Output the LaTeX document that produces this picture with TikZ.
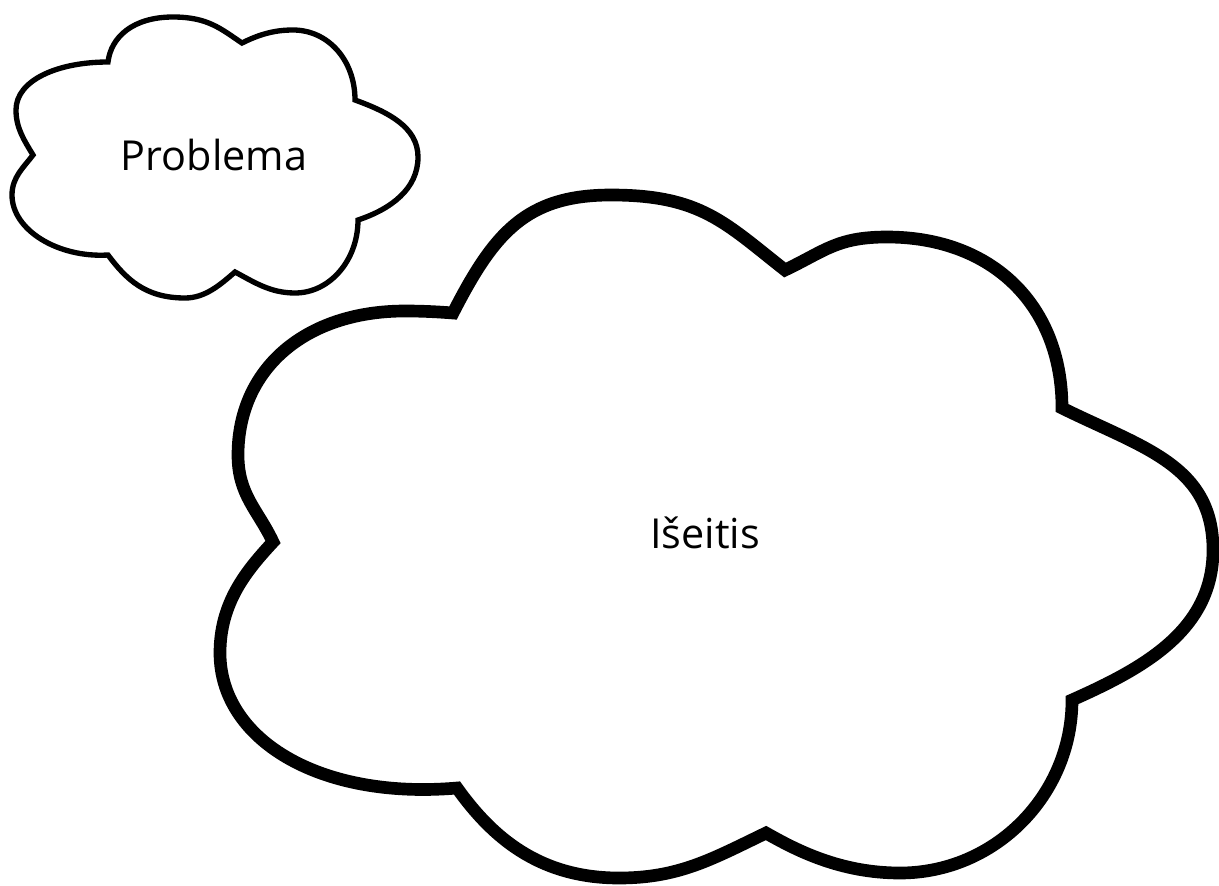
\documentclass[tikz,border=0pt]{standalone}
\usepackage{fontspec}
\setmainfont{Open Sans}
\begin{document}
\begin{tikzpicture}[x=0.75pt,y=-0.75pt,
  cloudsmall/.style={draw=black,fill=white,line width=4pt,line join=miter},
  cloudbig/.style={draw=black,fill=white,line width=9.5pt,line join=miter},
  cloudtext/.style={anchor=base,inner sep=0pt,font=\fontsize{31}{36}\selectfont}]
\useasboundingbox[fill=white] (0,0) rectangle (1219,885);

% small cloud
\path[cloudsmall] (108,62)
  .. controls (111,37) and (133,17) .. (173,17)
  .. controls (208,17) and (221,29) .. (242,43)
  .. controls (260,34) and (275,30) .. (293,30)
  .. controls (328,30) and (355,60) .. (355,100)
  .. controls (388,112) and (418,127) .. (418,157)
  .. controls (418,189) and (391,209) .. (358,220)
  .. controls (358,260) and (330,293) .. (295,293)
  .. controls (270,293) and (254,282) .. (235,272)
  .. controls (220,285) and (205,298) .. (185,298)
  .. controls (145,298) and (126,279) .. (108,255)
  .. controls (58,258) and (12,230) .. (12,195)
  .. controls (12,177) and (24,167) .. (33,155)
  .. controls (24,140) and (16,128) .. (16,110)
  .. controls (16,80) and (58,62) .. cycle;

% big cloud
\path[cloudbig] (453,313)
  .. controls (494,233) and (526,195) .. (611,195)
  .. controls (701,195) and (725,223) .. (785,270)
  .. controls (825,251) and (837,237) .. (887,237)
  .. controls (992,237) and (1062,305) .. (1062,408)
  .. controls (1143,448) and (1213,465) .. (1213,550)
  .. controls (1213,630) and (1144,668) .. (1072,700)
  .. controls (1072,795) and (995,873) .. (900,873)
  .. controls (840,873) and (796,850) .. (766,833)
  .. controls (712,859) and (679,878) .. (619,878)
  .. controls (539,878) and (492,837) .. (457,788)
  .. controls (317,800) and (220,738) .. (220,653)
  .. controls (220,603) and (246,571) .. (273,542)
  .. controls (258,510) and (238,495) .. (238,455)
  .. controls (238,369) and (305,311) .. (405,311)
  .. controls (425,311) and (440,312) .. cycle;

\node[cloudtext] (problema) at (214,170) {Problema};
\node[cloudtext] (iseitis) at (705,548) {Išeitis};
\end{tikzpicture}
\end{document}
